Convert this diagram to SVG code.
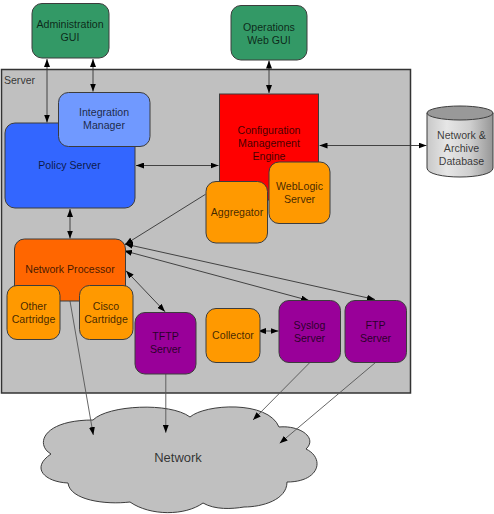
<svg xmlns="http://www.w3.org/2000/svg" width="494" height="514" viewBox="0 0 494 514">
<style>
text{font-family:"Liberation Sans",Arial,sans-serif;font-size:10.6px;text-anchor:middle;fill:#000;fill-opacity:.75}
.n{stroke:#3c3c3c;stroke-width:1}
.g{fill:#339966}.o{fill:#ff9900}.p{fill:#990099}
.c{fill:none;stroke:#333;stroke-width:.9}
.l{stroke:#555}
.a{marker-end:url(#ah)}
.b{marker-end:url(#ah);marker-start:url(#as)}
</style>
<defs>
<marker id="ah" viewBox="0 0 8 6" refX="8" refY="3" markerWidth="8" markerHeight="6" markerUnits="userSpaceOnUse" orient="auto"><path d="M0 0L8 3L0 6z" fill="#000"/></marker>
<marker id="as" viewBox="0 0 8 6" refX="0" refY="3" markerWidth="8" markerHeight="6" markerUnits="userSpaceOnUse" orient="auto"><path d="M8 0L0 3L8 6z" fill="#000"/></marker>
<linearGradient id="db" x1="0" x2="1" y1="0" y2="0"><stop offset="0" stop-color="#c8c8c8"/><stop offset=".3" stop-color="#e6e6e6"/><stop offset=".65" stop-color="#cfcfcf"/><stop offset="1" stop-color="#969696"/></linearGradient>
</defs>
<g id="server"><rect x="1.5" y="69.5" width="409" height="323.5" fill="#c0c0c0" stroke="#333" stroke-width="1.5"/><text x="19.5" y="84">Server</text></g>
<g id="cloud"><path class="n" fill="#c0c0c0" d="M93 420C108 405 170 402 190 417C205 404 268 400 279 427C300 425 318 438 306 449C325 458 320 482 287 482C287 500 262 507 244 507C232 509 215 510 203 503C185 516 150 516 130 502C105 505 70 500 68 483C45 482 30 468 51 454C35 445 42 420 93 420z"/><text x="178" y="462" style="font-size:13px">Network</text></g>
<g id="connectors">
<path class="c b" d="M47 59V122.500"/>
<path class="c b" d="M93 59V91.500"/>
<path class="c b" d="M269 60.500V93"/>
<path class="c b" d="M136 165.500H218.500"/>
<path class="c b" d="M319.500 145.500H426.500"/>
<path class="c b" d="M70 209V238.500"/>
<path class="c a" d="M205.500 194.300L125 244.500"/>
<path class="c b" d="M125 244L375 299.500"/>
<path class="c b" d="M124 250.700L309 300.500"/>
<path class="c b" d="M126 270.700L165 311.700"/>
<path class="c b" d="M258 331H278.500"/>
<path class="c a l" d="M70 301L93.300 435"/>
<path class="c a l" d="M165.800 374V432.700"/>
<path class="c a l" d="M309.700 362.700L253 420"/>
<path class="c a l" d="M375.300 362.700L279.700 443.300"/>
</g>
<g id="admin-gui"><rect class="n g" x="32" y="3.500" width="77" height="54.500" rx="10"/><text x="70" y="28">Administration</text><text x="70" y="40.500">GUI</text></g>
<g id="ops-gui"><rect class="n g" x="231" y="5.500" width="76" height="54.500" rx="10"/><text x="269" y="31">Operations</text><text x="269" y="43.500">Web GUI</text></g>
<g id="policy-server"><rect class="n" fill="#3366ff" x="5" y="123" width="130" height="85" rx="10"/><text x="69.500" y="169">Policy Server</text></g>
<g id="integration-manager"><rect class="n" fill="#7099ff" x="58.500" y="92.500" width="91.500" height="54" rx="10"/><text x="104" y="116">Integration</text><text x="104" y="129">Manager</text></g>
<g id="cme"><rect class="n" fill="#ff0000" x="219.500" y="94" width="99" height="106"/><text x="269" y="134">Configuration</text><text x="269" y="147">Management</text><text x="269" y="160">Engine</text></g>
<g id="aggregator"><rect class="n o" x="206" y="181.500" width="61.500" height="61.500" rx="10"/><text x="237" y="215.500">Aggregator</text></g>
<g id="weblogic"><rect class="n o" x="269" y="162" width="61" height="61.500" rx="10"/><text x="299.500" y="190">WebLogic</text><text x="299.500" y="203">Server</text></g>
<g id="network-processor"><rect class="n" fill="#ff6600" x="14.500" y="239" width="111" height="62" rx="10"/><text x="70" y="273">Network Processor</text></g>
<g id="other-cartridge"><rect class="n o" x="7" y="285.500" width="53" height="54" rx="10"/><text x="33.500" y="309.500">Other</text><text x="33.500" y="322.500">Cartridge</text></g>
<g id="cisco-cartridge"><rect class="n o" x="79.500" y="285.500" width="53.500" height="54" rx="10"/><text x="106" y="309.500">Cisco</text><text x="106" y="322.500">Cartridge</text></g>
<g id="tftp"><rect class="n p" x="135" y="312.500" width="61" height="61.500" rx="10"/><text x="165.500" y="340">TFTP</text><text x="165.500" y="353">Server</text></g>
<g id="collector"><rect class="n o" x="206" y="308.500" width="54" height="54" rx="10"/><text x="233" y="339">Collector</text></g>
<g id="syslog"><rect class="n p" x="279" y="300.500" width="61.500" height="62" rx="10"/><text x="309.500" y="329">Syslog</text><text x="309.500" y="341.500">Server</text></g>
<g id="ftp"><rect class="n p" x="345" y="300.500" width="61.500" height="62" rx="10"/><text x="375.500" y="329">FTP</text><text x="375.500" y="341.500">Server</text></g>
<g id="database"><path class="n" fill="url(#db)" d="M427 113V168C427 180 493 180 493 168V113z"/><ellipse class="n" cx="460" cy="113" rx="33" ry="7" fill="#999"/><text x="461.500" y="139">Network &amp;</text><text x="461.500" y="152">Archive</text><text x="461.500" y="164.500">Database</text></g>
</svg>
